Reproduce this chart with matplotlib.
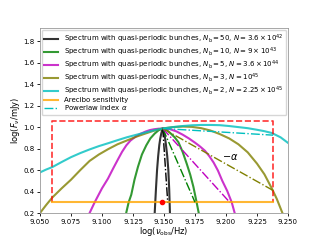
import numpy as np
import matplotlib
matplotlib.use('Agg')
import matplotlib.pyplot as plt

# spectra: log(nu) and log(F)
x_nb50 = [9.1410, 9.1425, 9.1435, 9.1444, 9.1453, 9.1462, 9.1470, 9.1478, 9.1485, 9.1490,
          9.1495, 9.1502, 9.1509, 9.1516, 9.1526, 9.1535, 9.1542, 9.1548, 9.1560]
y_nb50 = [-0.2, 0.2, 0.42, 0.6, 0.73, 0.832, 0.895, 0.94, 0.972, 0.987,
          0.972, 0.94, 0.895, 0.832, 0.73, 0.6, 0.42, 0.2, -0.2]

x_nb10 = [9.1180, 9.1195, 9.1215, 9.1236, 9.1262, 9.1290, 9.1322, 9.1357, 9.1390, 9.1425, 9.1458, 9.1490,
          9.1522, 9.1555, 9.1586, 9.1616, 9.1650, 9.1683, 9.1712, 9.1737, 9.1763, 9.1780, 9.1795]
y_nb10 = [0.1, 0.2, 0.3, 0.37, 0.51, 0.63, 0.745, 0.83, 0.895, 0.94, 0.972, 0.987,
          0.972, 0.94, 0.905, 0.86, 0.77, 0.66, 0.555, 0.444, 0.3, 0.2, 0.1]

x_nb5 = [9.0880, 9.0900, 9.0941, 9.1000, 9.1048, 9.1090, 9.1129, 9.1162, 9.1196, 9.1230, 9.1270,
         9.1310, 9.1350, 9.1385, 9.1420, 9.1455, 9.1490, 9.1520, 9.1550, 9.1600, 9.1650, 9.1700,
         9.1750, 9.1790, 9.1830, 9.1865, 9.1900, 9.1935, 9.1970, 9.2010, 9.2046, 9.2070, 9.2090]
y_nb5 = [0.15, 0.2, 0.3, 0.43, 0.52, 0.615, 0.70, 0.77, 0.83, 0.875, 0.91,
         0.937, 0.958, 0.972, 0.98, 0.985, 0.987, 0.985, 0.98, 0.96, 0.93, 0.895,
         0.855, 0.82, 0.78, 0.73, 0.67, 0.595, 0.5, 0.405, 0.3, 0.2, 0.13]

x_nb3 = [9.0500, 9.0550, 9.0600, 9.0675, 9.0750, 9.0825, 9.0900, 9.0975, 9.1050, 9.1125,
         9.1200, 9.1275, 9.1350, 9.1420, 9.1490, 9.1570, 9.1650, 9.1725, 9.1800, 9.1875,
         9.1950, 9.2025, 9.2100, 9.2175, 9.2250, 9.2310, 9.2369, 9.2410, 9.2455, 9.2500]
y_nb3 = [0.2, 0.275, 0.345, 0.43, 0.51, 0.60, 0.685, 0.745, 0.795, 0.84,
         0.875, 0.91, 0.94, 0.967, 0.987, 1.0, 1.005, 1.002, 0.99, 0.968,
         0.935, 0.895, 0.84, 0.765, 0.66, 0.56, 0.43, 0.33, 0.2, 0.07]

x_nb2 = [9.0500, 9.0550, 9.0600, 9.0675, 9.0750, 9.0825, 9.0900, 9.0975, 9.1050, 9.1125,
         9.1200, 9.1275, 9.1350, 9.1420, 9.1490, 9.1570, 9.1650, 9.1725, 9.1800, 9.1875,
         9.1950, 9.2025, 9.2100, 9.2175, 9.2250, 9.2310, 9.2370, 9.2440, 9.2500]
y_nb2 = [0.578, 0.605, 0.628, 0.675, 0.72, 0.758, 0.792, 0.823, 0.85, 0.878,
         0.905, 0.928, 0.95, 0.97, 0.987, 1.0, 1.01, 1.017, 1.02, 1.02,
         1.018, 1.01, 1.0, 0.99, 0.975, 0.962, 0.945, 0.905, 0.853]

labels = [r'Spectrum with quasi-periodic bunches, $N_{\rm b}=50$, $N=3.6\times10^{42}$',
          r'Spectrum with quasi-periodic bunches, $N_{\rm b}=10$, $N=9\times10^{43}$',
          r'Spectrum with quasi-periodic bunches, $N_{\rm b}=5$, $N=3.6\times10^{44}$',
          r'Spectrum with quasi-periodic bunches, $N_{\rm b}=3$, $N=10^{45}$',
          r'Spectrum with quasi-periodic bunches, $N_{\rm b}=2$, $N=2.25\times10^{45}$']
colors = ['k', 'g', 'm', 'olive', 'c']

# power-law index lines: common peak to end point
peak = (9.149, 0.987)
pl_end_x = [9.153, 9.175, 9.203, 9.238, 9.238]
pl_end_y = [0.3, 0.3, 0.3, 0.41, 0.925]

# Arecibo sensitivity box
box_x = [9.060, 9.238]
box_y = [0.3, 1.055]
burst = (9.1487, 0.3)

fig, ax = plt.subplots(figsize=(3.2, 2.4), dpi=100)

curves = [(x_nb50, y_nb50), (x_nb10, y_nb10), (x_nb5, y_nb5), (x_nb3, y_nb3), (x_nb2, y_nb2)]
for (xs, ys), c, lab in zip(curves, colors, labels):
    ax.plot(xs, ys, color=c, lw=1.5, alpha=0.8, label=lab)

ax.plot([box_x[0], box_x[0], box_x[1], box_x[1]], [box_y[0], box_y[1], box_y[1], box_y[0]],
        'r--', lw=1.2, alpha=0.8)
ax.plot(box_x, [box_y[0], box_y[0]], color='orange', lw=1.5, alpha=0.8, label='Arecibo sensitivity')

for i, c in enumerate(colors):
    lab = r'Powerlaw index $\alpha$' if c == 'c' else None
    ax.plot([peak[0], pl_end_x[i]], [peak[1], pl_end_y[i]], '-.', color=c, lw=1.0, label=lab)

ax.plot(burst[0], burst[1], 'ro', ms=3)
ax.text(9.2032, 0.723, r'$-\alpha$', fontsize=7, ha='center', va='center')

h, l = ax.get_legend_handles_labels()
ax.legend(h, l, loc='upper center', fontsize=5.0, borderaxespad=0.25, handlelength=2.0,
          labelspacing=0.06, borderpad=0.35)

ax.set_xlim(9.05, 9.25)
ax.set_ylim(0.2, 1.92)
ax.set_xticks([9.05, 9.075, 9.1, 9.125, 9.15, 9.175, 9.2, 9.225, 9.25])
ax.xaxis.set_major_formatter(matplotlib.ticker.FormatStrFormatter('%.3f'))
ax.tick_params(labelsize=5, length=2.5, width=0.6, pad=1.5)
for s in ax.spines.values():
    s.set_linewidth(0.6)
    s.set_color('0.6')
ax.set_xlabel(r'$\log(\nu_{\rm obs}/{\rm Hz})$', fontsize=6, labelpad=0)
ax.set_ylabel(r'$\log(F_\nu/{\rm mJy})$', fontsize=6, labelpad=1)

fig.subplots_adjust(left=0.125, right=0.9, bottom=0.1125, top=0.882)
fig.savefig('out.png', dpi=100)
